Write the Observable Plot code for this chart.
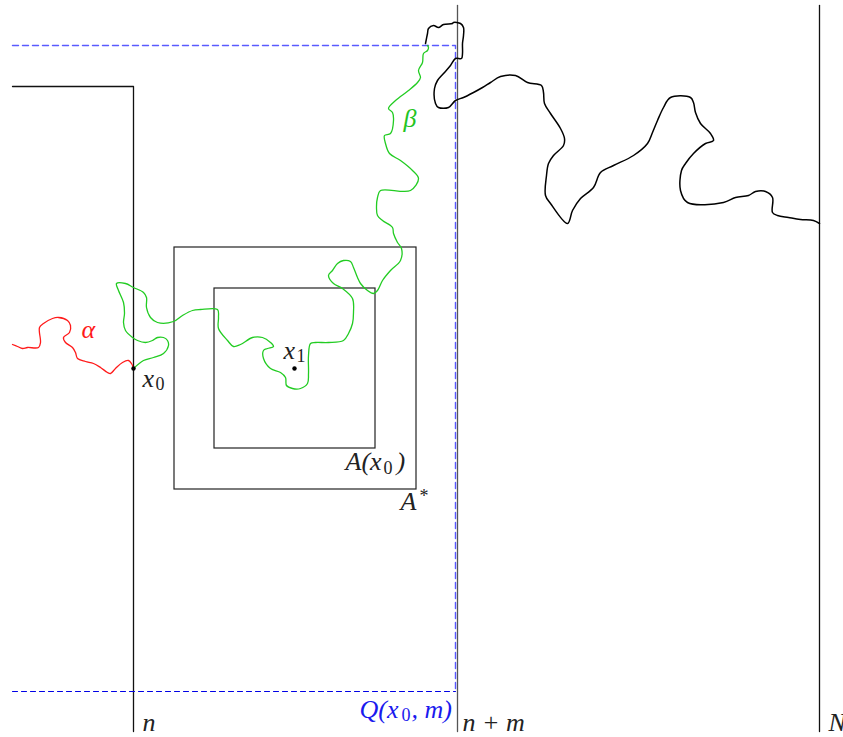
<!DOCTYPE html>
<html>
<head>
<meta charset="utf-8">
<script src="https://cdn.jsdelivr.net/npm/d3@7"></script>
<script src="https://cdn.jsdelivr.net/npm/@observablehq/plot@0.6"></script>
<style>
  html, body { margin: 0; padding: 0; background: #fff; }
  #chart svg { display: block; }
</style>
</head>
<body>
<div id="chart"></div>
<script>
// ---- data (diagram coordinates, y downward) ----
const alphaPath = [[12,344],[17,346],[22,348],[27,347],[38,347],[40,342],[39,327],[43,323],[52,318],[58,317],[67,320],[70,325],[69,332],[63,337],[65,342],[72,347],[75,352],[77,358],[85,361],[93,363],[100,367],[107,372],[110,373],[115,368],[122,362],[128,360],[131,363],[133,368]];

const betaPath = [[133,368],[143,360],[153,357],[163,353],[168,345],[167,340],[163,337],[157,337],[152,340],[145,342],[137,340],[132,337],[125,330],[123,322],[124,313],[123,302],[118,290],[116,283],[125,283],[133,287],[143,292],[146,297],[146,307],[150,317],[157,322],[173,321],[182,315],[192,310],[200,309],[217,309],[218,317],[218,328],[227,340],[233,346],[240,344],[252,337],[262,337],[270,342],[273,346],[267,348],[263,350],[263,358],[270,368],[280,372],[285,377],[286,385],[292,388],[300,388],[307,383],[308,373],[308,355],[310,343],[315,342],[328,342],[343,340],[348,333],[352,323],[353,312],[352,298],[342,288],[333,283],[328,275],[332,270],[337,263],[343,260],[350,261],[353,267],[357,277],[360,283],[367,290],[373,293],[377,290],[382,280],[390,270],[400,260],[401,248],[397,242],[393,233],[392,227],[382,220],[377,215],[376,207],[377,197],[380,190],[410,190],[418,178],[412,170],[400,160],[389,153],[385,143],[384,135],[390,133],[393,120],[392,112],[388,108],[395,100],[408,90],[417,82],[420,77],[418,70],[422,62],[423,53],[427,50],[428,47],[427,45]];

const boundaryPath = [[425,43],[427,33],[428,28],[433,25],[438,27],[443,24],[452,23],[453,22],[460,23],[463,27],[463,35],[462,43],[462,53],[461,58],[455,58],[450,65],[443,73],[437,80],[434,88],[435,103],[438,107],[448,107],[455,100],[463,97],[473,92],[482,87],[490,82],[500,76],[515,75],[527,82],[541,85],[543,92],[544,103],[550,113],[560,128],[564,138],[563,145],[553,155],[548,163],[546,175],[545,195],[550,203],[567,223],[572,210],[580,198],[593,187],[600,172],[613,165],[633,155],[647,143],[652,132],[657,120],[663,107],[670,97],[690,97],[693,102],[695,112],[700,123],[710,133],[713,140],[705,143],[693,153],[685,163],[681,170],[680,190],[687,202],[723,202],[735,197],[748,195],[755,191],[765,191],[772,197],[772,212],[777,215],[788,217],[800,219],[813,220],[819,223]];

const solidSegments = [
  {name: "n", pts: [[12,86],[133,86],[133,731]], color: "#111"},
  {name: "n+m", pts: [[457,5],[457,731]], color: "#555"},
  {name: "N", pts: [[819,5],[819,731]], color: "#111"}
];

const dashedTop = [[12,45],[455,45],[455,691]];
const dashedBottom = [[12,691],[455,691]];

const squares = [
  {name: "A*", x1: 174, x2: 416, y1: 247, y2: 489},
  {name: "A(x0)", x1: 214, x2: 375, y1: 288, y2: 448}
];

const markedPoints = [{name: "x0", x: 133, y: 368}, {name: "x1", x: 294, y: 368}];

// label pieces: main glyphs and subscripts
const labelsMain = [
  {t: "α", x: 81, y: 329, c: "#ff1a1a"},
  {t: "β", x: 403, y: 118, c: "#22c422"},
  {t: "x", x: 142, y: 378, c: "#222"},
  {t: "x", x: 283, y: 350, c: "#222"},
  {t: "A(x", x: 345, y: 461, c: "#222"},
  {t: ")", x: 396, y: 461, c: "#222"},
  {t: "A", x: 400, y: 501, c: "#222"},
  {t: "Q(x", x: 359, y: 709, c: "#1a1aee"},
  {t: ", m)", x: 411, y: 709, c: "#1a1aee"},
  {t: "n", x: 142, y: 722, c: "#222"},
  {t: "n + m", x: 462, y: 722, c: "#222"},
  {t: "N", x: 828, y: 722, c: "#222"}
];
const labelsSub = [
  {t: "0", x: 155, y: 384, c: "#222"},
  {t: "1", x: 296, y: 356, c: "#222"},
  {t: "0", x: 383, y: 468, c: "#222"},
  {t: "*", x: 419, y: 496, c: "#222"},
  {t: "0", x: 401, y: 715, c: "#1a1aee"}
];

const W = 843, H = 737;

const toObj = arr => arr.map(([x, y]) => ({x, y}));

const marks = [
  ...solidSegments.map(s => Plot.line(toObj(s.pts), {x: "x", y: "y", stroke: s.color, strokeWidth: 1.3})),
  Plot.rect(squares, {x1: "x1", x2: "x2", y1: "y1", y2: "y2", fill: "none", stroke: "#222", strokeWidth: 1.2}),
  Plot.line(toObj(dashedTop), {x: "x", y: "y", stroke: "#5a5aff", strokeWidth: 1.4, strokeDasharray: "6,4"}),
  Plot.line(toObj(dashedBottom), {x: "x", y: "y", stroke: "#0000e6", strokeWidth: 1.1, strokeDasharray: "5,4"}),
  Plot.line(toObj(boundaryPath), {x: "x", y: "y", stroke: "#000", strokeWidth: 1.5, curve: "catmull-rom"}),
  Plot.line(toObj(alphaPath), {x: "x", y: "y", stroke: "#ff1a1a", strokeWidth: 1.3, curve: "catmull-rom"}),
  Plot.line(toObj(betaPath), {x: "x", y: "y", stroke: "#22cc22", strokeWidth: 1.3, curve: "catmull-rom"}),
  Plot.dot(markedPoints, {x: "x", y: "y", r: 2.2, fill: "#000"}),
  Plot.text(labelsMain, {x: "x", y: "y", text: "t", fill: "c", textAnchor: "start", fontSize: 26, fontStyle: "italic", fontFamily: "Liberation Serif"}),
  Plot.text(labelsSub, {x: "x", y: "y", text: "t", fill: "c", textAnchor: "start", fontSize: 18, fontFamily: "Liberation Serif"})
];

const chart = Plot.plot({
  width: W, height: H,
  margin: 0,
  x: {domain: [0, W], range: [0, W], axis: null},
  y: {domain: [0, H], range: [0, H], axis: null},
  color: {type: "identity"},
  style: {background: "#fff"},
  marks
});
document.getElementById("chart").appendChild(chart);
</script>
</body>
</html>
